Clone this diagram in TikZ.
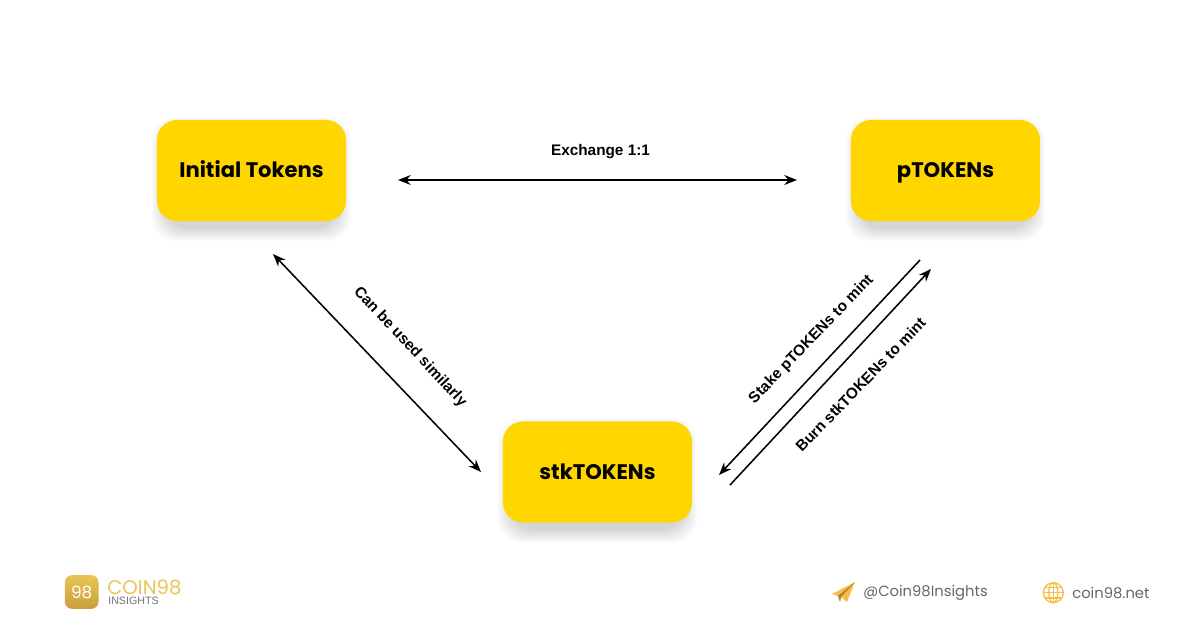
\documentclass[tikz,border=0pt]{standalone}
\usepackage{fontspec}
\setmainfont{Poppins}
\newfontfamily\labelfont{Liberation Sans}
\usepackage{xcolor}
\usetikzlibrary{arrows.meta, backgrounds, calc}
\definecolor{tokyellow}{HTML}{FFD600}
\definecolor{goldtop}{HTML}{E9C556}
\definecolor{goldbot}{HTML}{C99F3E}
\definecolor{iconyellow}{HTML}{F6BE45}
\definecolor{footgray}{HTML}{666666}
\tikzset{
  %% Token box
  tokbox/.style={
    rectangle, rounded corners=0.5cm, fill=tokyellow,
    minimum width=4.725cm, minimum height=2.525cm,
    text centered, font=\fontsize{15}{18}\selectfont\bfseries,
    text height=13pt, text depth=3pt, inner sep=0pt
  },
  %% Arrows
  arr/.style={-{Stealth[length=9pt,width=7pt]}, draw=black, line width=1.1pt},
  darr/.style={{Stealth[length=9pt,width=7pt]}-{Stealth[length=9pt,width=7pt]},
               draw=black, line width=1.1pt},
  %% Connector label
  lbl/.style={font=\labelfont\fontsize{10.9}{13}\selectfont\bfseries, inner sep=0pt},
  %% Footer text
  foot/.style={font=\fontsize{10.5}{14}\selectfont, color=footgray, inner sep=0pt, anchor=west},
}

\begin{document}
\begin{tikzpicture}[x=0.025cm, y=-0.025cm]
  \useasboundingbox (0,0) rectangle (1200,628);

  %% Token boxes
  \node[tokbox] (init) at (251.5,170.5) {Initial Tokens};
  \node[tokbox] (ptok) at (945.5,170.5) {pTOKENs};
  \node[tokbox] (stk)  at (597.5,472)   {stkTOKENs};

  %% Soft shadows
  \begin{scope}[on background layer]
    \foreach \n in {init, ptok, stk}
      \foreach \s in {1,2,...,14}
        \fill[black, opacity=0.012, rounded corners=0.6cm]
          ($(\n.north west)+(9-\s,11-\s)$) rectangle
          ($(\n.south east)+(-9+\s,6+\s)$);
  \end{scope}

  %% Free arrow ends
  \coordinate (exa) at (398,180);
  \coordinate (exb) at (797,180);
  \coordinate (sima) at (273,254);
  \coordinate (simb) at (481,472);
  \coordinate (stakea) at (920,260);
  \coordinate (stakeb) at (719,475);
  \coordinate (burna) at (730,485);
  \coordinate (burnb) at (931,269);

  %% Arrows
  \draw[darr] (exa) -- (exb);
  \draw[darr] (sima) -- (simb);
  \draw[arr]  (stakea) -- (stakeb);
  \draw[arr]  (burna) -- (burnb);

  %% Arrow labels
  \node[lbl] (exlbl) at (600.5,152) {Exchange 1:1};
  \node[lbl, rotate=-47] (simlbl) at (410,347) {Can be used similarly};
  \node[lbl, rotate=46] (stakelbl) at (811.5,339.5) {Stake pTOKENs to mint};
  \node[lbl, rotate=46] (burnlbl) at (860.5,384.5) {Burn stkTOKENs to mint};

  %% Logo
  \node[rectangle, rounded corners=5pt, top color=goldtop, bottom color=goldbot,
        minimum width=0.84cm, minimum height=0.84cm, inner sep=0pt,
        text=white, font=\fontsize{12}{12}\selectfont] (logo) at (81.7,592) {98};
  \node[inner sep=0pt, anchor=west, color=goldtop,
        font=\fontsize{14}{16}\selectfont] (coin) at (107,587) {COIN98};
  \node[inner sep=0pt, anchor=west, color=black!55,
        font=\labelfont\fontsize{7.6}{9}\selectfont] (insights) at (108,601) {INSIGHTS};

  %% Footer, telegram
  \fill[iconyellow] (832,594) -- (855,582) -- (847,602) -- (841,597) -- (840,602)
    -- (838,596) -- cycle;
  \fill[iconyellow!70!black] (838,596) -- (855,582) -- (841,597) -- (840,602) -- cycle;
  \node[foot] (tele) at (863,593) {@Coin98Insights};

  %% Footer, globe
  \begin{scope}[iconyellow, line width=0.9pt]
    \draw (1053.3,592.7) circle [radius=10];
    \draw (1053.3,592.7) ellipse [x radius=4.5, y radius=10];
    \draw (1053.3,582.7) -- (1053.3,602.7);
    \draw (1043.3,592.7) -- (1063.3,592.7);
    \draw (1045,587.5) -- (1061.6,587.5);
    \draw (1045,597.9) -- (1061.6,597.9);
  \end{scope}
  \node[foot] (web) at (1072,593) {coin98.net};
\end{tikzpicture}
\end{document}
